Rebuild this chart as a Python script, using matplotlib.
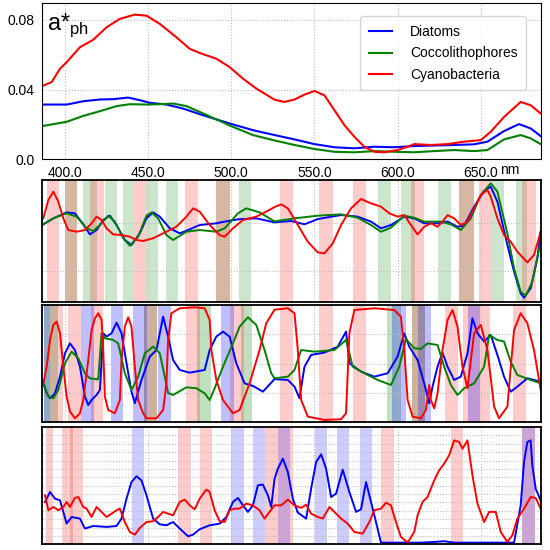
import numpy as np
import matplotlib.pyplot as plt

plt.rcParams['font.family'] = ['Liberation Sans', 'DejaVu Sans']

# -------------------------
# DATA: absorption spectra (top panel)
# -------------------------
labels = ["Diatoms", "Coccolithophores", "Cyanobacteria"]
colors = ["b", "g", "r"]

wl_dia = [386, 401, 411, 421, 429, 438, 445, 451, 461, 471, 481, 491, 501, 513, 526,
          538, 550, 562, 574, 586, 598, 610, 622, 634, 646, 654, 664, 673, 680, 686]
a_dia = [0.0314, 0.0314, 0.0333, 0.0343, 0.0345, 0.0354, 0.0339, 0.0324, 0.0314, 0.0291,
         0.0259, 0.0229, 0.0200, 0.0167, 0.0139, 0.0114, 0.0087, 0.0069, 0.0063, 0.0072,
         0.0069, 0.0076, 0.0079, 0.0082, 0.0086, 0.0101, 0.0162, 0.0202, 0.0177, 0.0133]

wl_coc = [386, 401, 411, 421, 431, 439, 449, 457, 465, 473, 481, 491, 501, 513, 526,
          538, 550, 562, 574, 586, 598, 610, 622, 634, 646, 654, 664, 674, 680, 686]
a_coc = [0.0190, 0.0215, 0.0249, 0.0276, 0.0305, 0.0316, 0.0314, 0.0316, 0.0320, 0.0305,
         0.0272, 0.0229, 0.0186, 0.0139, 0.0108, 0.0082, 0.0059, 0.0043, 0.0040, 0.0047,
         0.0043, 0.0040, 0.0047, 0.0053, 0.0047, 0.0053, 0.0114, 0.0139, 0.0120, 0.0087]

wl_cya = [386, 392, 397, 401, 409, 417, 425, 433, 442, 449, 457, 467, 475, 481, 491, 499,
          507, 515, 526, 532, 538, 544, 550, 556, 562, 568, 574, 580, 586, 592, 600, 606,
          610, 620, 630, 640, 650, 656, 664, 674, 680, 686]
a_cya = [0.0419, 0.0443, 0.0520, 0.0557, 0.0643, 0.0686, 0.0757, 0.0806, 0.0830, 0.0824,
         0.0777, 0.0700, 0.0634, 0.0610, 0.0577, 0.0529, 0.0463, 0.0406, 0.0342, 0.0329,
         0.0343, 0.0371, 0.0392, 0.0367, 0.0282, 0.0196, 0.0129, 0.0072, 0.0043, 0.0040,
         0.0053, 0.0072, 0.0087, 0.0082, 0.0087, 0.0101, 0.0110, 0.0158, 0.0243, 0.0329,
         0.0310, 0.0263]

# -------------------------
# DATA: panel 2 (relative units, 0..1)
# -------------------------
p2_wl_r = [387, 390, 393, 396, 399, 402, 407, 412, 416, 419, 422, 425, 429, 434, 439, 443,
           447, 453, 461, 467, 473, 477, 481, 487, 493, 496, 501, 507, 515, 521, 526, 530,
           534, 540, 546, 552, 556, 561, 566, 572, 578, 584, 590, 595, 600, 604, 608, 612,
           616, 620, 624, 627, 630, 634, 638, 642, 646, 650, 654, 656, 660, 664, 668, 672,
           678, 682, 686]
p2_r = [0.685, 0.836, 0.904, 0.822, 0.685, 0.589, 0.575, 0.589, 0.644, 0.699, 0.671, 0.603,
        0.553, 0.548, 0.534, 0.507, 0.499, 0.521, 0.575, 0.616, 0.699, 0.767, 0.740, 0.630,
        0.548, 0.534, 0.603, 0.671, 0.699, 0.740, 0.778, 0.800, 0.767, 0.630, 0.493, 0.405,
        0.397, 0.479, 0.630, 0.767, 0.844, 0.808, 0.781, 0.726, 0.699, 0.712, 0.630, 0.553,
        0.616, 0.644, 0.616, 0.658, 0.712, 0.685, 0.630, 0.658, 0.767, 0.877, 0.918, 0.863,
        0.685, 0.548, 0.493, 0.411, 0.323, 0.384, 0.575]

p2_wl_b = [387, 393, 401, 406, 411, 415, 419, 423, 427, 431, 436, 440, 445, 449, 453, 457,
           463, 469, 474, 481, 491, 496, 504, 515, 526, 536, 544, 552, 566, 576, 584, 590,
           596, 604, 610, 616, 624, 630, 636, 640, 646, 652, 656, 660, 666, 670, 674, 676,
           680, 684, 686]
p2_b = [0.636, 0.685, 0.734, 0.726, 0.636, 0.553, 0.589, 0.671, 0.707, 0.630, 0.507, 0.466,
        0.562, 0.685, 0.734, 0.699, 0.603, 0.562, 0.589, 0.630, 0.644, 0.658, 0.677, 0.685,
        0.652, 0.663, 0.636, 0.679, 0.712, 0.699, 0.658, 0.603, 0.630, 0.699, 0.685, 0.644,
        0.644, 0.658, 0.616, 0.625, 0.781, 0.910, 0.945, 0.822, 0.466, 0.247, 0.068, 0.033,
        0.110, 0.356, 0.575]

p2_wl_g = [387, 393, 401, 407, 413, 417, 421, 426, 430, 435, 439, 444, 449, 452, 456, 461,
           465, 473, 481, 491, 496, 504, 509, 517, 526, 538, 552, 566, 576, 584, 590, 596,
           604, 610, 616, 626, 632, 638, 644, 650, 656, 660, 666, 670, 674, 677, 681, 686]
p2_g = [0.636, 0.685, 0.726, 0.699, 0.603, 0.581, 0.630, 0.707, 0.658, 0.521, 0.460, 0.534,
        0.707, 0.734, 0.685, 0.548, 0.507, 0.575, 0.589, 0.575, 0.603, 0.726, 0.767, 0.734,
        0.660, 0.685, 0.707, 0.718, 0.690, 0.630, 0.575, 0.608, 0.707, 0.690, 0.658, 0.658,
        0.636, 0.589, 0.685, 0.877, 0.973, 0.904, 0.562, 0.274, 0.082, 0.049, 0.164, 0.493]

p2_red_spans = [(389, 396.6), (400, 407.4), (415, 423.6), (441.5, 449), (472, 480), (491, 499),
                (529, 537), (553, 561), (573, 581), (608, 616), (637, 646), (649, 657),
                (675, 683.5)]
p2_green_spans = [(400, 407.4), (411, 419.4), (424, 431), (434.7, 441.5), (449, 456),
                  (460.5, 468), (491, 499), (504.6, 512), (588, 596), (602, 610.5), (624, 632),
                  (637, 646), (657, 664), (671, 678)]

# -------------------------
# DATA: panel 3 (relative units, 0..1)
# -------------------------
p3_wl_r = [387, 389, 391, 393, 395, 397, 399, 401, 403, 406, 409, 411, 414, 416, 418, 420,
           422, 423, 424, 426, 430, 433, 434, 436, 438, 440, 442, 444, 447, 449, 455, 459,
           461, 462, 464, 469, 478, 484, 487, 488, 491, 495, 501, 505, 511, 517, 521, 526,
           534, 538, 540, 542, 546, 556, 566, 569, 571, 574, 586, 598, 602, 604, 606, 609,
           614, 617, 619, 620, 622, 624, 627, 630, 633, 636, 639, 642, 646, 650, 654, 658,
           661, 666, 670, 674, 678, 682, 686]
p3_r = [0.332, 0.474, 0.702, 0.830, 0.858, 0.759, 0.474, 0.219, 0.091, 0.034, 0.077, 0.190,
        0.531, 0.787, 0.886, 0.929, 0.872, 0.616, 0.219, 0.105, 0.077, 0.190, 0.531, 0.815,
        0.895, 0.815, 0.474, 0.190, 0.077, 0.034, 0.034, 0.105, 0.332, 0.702, 0.929, 0.972,
        0.980, 0.972, 0.872, 0.616, 0.361, 0.190, 0.077, 0.105, 0.332, 0.616, 0.844, 0.960,
        0.972, 0.929, 0.616, 0.190, 0.048, 0.020, 0.026, 0.077, 0.759, 0.957, 0.972, 0.957,
        0.900, 0.616, 0.190, 0.048, 0.034, 0.105, 0.318, 0.190, 0.119, 0.247, 0.616, 0.872,
        0.957, 0.815, 0.474, 0.290, 0.759, 0.830, 0.616, 0.134, 0.034, 0.134, 0.787, 0.929,
        0.844, 0.616, 0.280]

p3_wl_b = [387, 389, 391, 394, 397, 400, 403, 406, 409, 412, 414, 416, 419, 421, 423, 425,
           428, 431, 434, 437, 440, 442, 446, 451, 455, 459, 462, 465, 469, 475, 484, 487,
           491, 495, 499, 503, 508, 513, 519, 526, 534, 538, 541, 544, 548, 556, 564, 569,
           571, 578, 586, 594, 600, 604, 607, 612, 616, 619, 621, 624, 627, 630, 634, 638,
           642, 645, 648, 652, 656, 660, 664, 668, 672, 678, 686]
p3_b = [0.332, 0.247, 0.205, 0.247, 0.389, 0.588, 0.673, 0.616, 0.474, 0.219, 0.148, 0.190,
        0.233, 0.276, 0.759, 0.730, 0.759, 0.849, 0.759, 0.503, 0.261, 0.162, 0.361, 0.560,
        0.616, 0.900, 0.730, 0.531, 0.446, 0.423, 0.446, 0.616, 0.730, 0.773, 0.730, 0.503,
        0.332, 0.310, 0.261, 0.368, 0.361, 0.304, 0.205, 0.474, 0.574, 0.594, 0.645, 0.773,
        0.503, 0.432, 0.389, 0.418, 0.560, 0.759, 0.645, 0.531, 0.332, 0.162, 0.304, 0.474,
        0.594, 0.474, 0.361, 0.389, 0.588, 0.886, 0.759, 0.688, 0.744, 0.574, 0.389, 0.261,
        0.304, 0.375, 0.347]

p3_wl_g = [387, 390, 393, 396, 400, 404, 408, 412, 415, 420, 422, 424, 429, 432, 436, 440,
           444, 448, 453, 457, 460, 462, 465, 473, 479, 484, 487, 490, 495, 501, 505, 510,
           515, 520, 524, 526, 534, 538, 542, 550, 562, 569, 573, 580, 588, 596, 601, 605,
           610, 614, 618, 624, 628, 632, 636, 640, 646, 652, 655, 660, 664, 668, 672, 680,
           686]
p3_g = [0.332, 0.219, 0.205, 0.276, 0.503, 0.602, 0.545, 0.418, 0.375, 0.366, 0.759, 0.716,
        0.702, 0.673, 0.418, 0.276, 0.389, 0.588, 0.645, 0.588, 0.389, 0.250, 0.233, 0.298,
        0.290, 0.247, 0.190, 0.290, 0.474, 0.673, 0.815, 0.895, 0.830, 0.616, 0.418, 0.375,
        0.389, 0.446, 0.616, 0.602, 0.616, 0.702, 0.474, 0.418, 0.361, 0.318, 0.474, 0.710,
        0.631, 0.625, 0.673, 0.659, 0.474, 0.318, 0.233, 0.290, 0.332, 0.474, 0.744, 0.702,
        0.688, 0.517, 0.403, 0.361, 0.332]

p3_red_spans = [(391, 399), (402, 409.6), (415.6, 423), (447.5, 455.5), (472.7, 481),
                (499.3, 507.7), (529, 537), (553, 561), (573, 581), (608.7, 616.3),
                (628.3, 636.3), (639.3, 655.4), (669.5, 677)]
p3_green_spans = [(387.6, 396), (447.5, 455.5), (479.5, 487.5), (505.7, 512.7),
                  (593.7, 602.3), (608.7, 616.3)]
p3_blue_spans = [(387.6, 391), (409.6, 417.6), (427.6, 435), (441, 449.5), (456, 463.5),
                 (494, 501.5), (596.7, 605.3), (612, 620), (642.3, 649.3)]

# -------------------------
# DATA: panel 4 (relative units, 0..1)
# -------------------------
p4_wl_b = [388, 391, 394, 397, 399, 401, 404, 409, 412, 417, 425, 431, 434, 437, 440, 443,
           446, 449, 453, 457, 461, 465, 469, 474, 477, 481, 487, 493, 497, 501, 504, 507,
           510, 513, 516, 519, 522, 524, 526, 528, 531, 534, 537, 540, 545, 548, 551, 554,
           557, 560, 563, 567, 571, 575, 578, 581, 584, 587, 590, 606, 614, 622, 628, 634,
           646, 670, 674, 676, 678, 680, 681, 683, 686]
p4_b = [0.361, 0.446, 0.389, 0.375, 0.276, 0.176, 0.233, 0.219, 0.134, 0.156, 0.148, 0.156,
        0.219, 0.389, 0.531, 0.580, 0.545, 0.418, 0.219, 0.170, 0.162, 0.190, 0.134, 0.068,
        0.082, 0.128, 0.162, 0.176, 0.233, 0.361, 0.395, 0.332, 0.276, 0.332, 0.503, 0.509,
        0.418, 0.318, 0.557, 0.645, 0.730, 0.616, 0.389, 0.270, 0.219, 0.474, 0.702, 0.767,
        0.645, 0.403, 0.432, 0.636, 0.446, 0.276, 0.298, 0.531, 0.361, 0.190, 0.014, 0.014,
        0.014, 0.020, 0.026, 0.014, 0.014, 0.014, 0.332, 0.702, 0.872, 0.886, 0.673, 0.474,
        0.375]

p4_wl_r = [388, 390, 393, 396, 399, 401, 403, 406, 408, 411, 413, 416, 419, 422, 425, 428,
           431, 433, 436, 439, 442, 445, 449, 453, 456, 459, 462, 465, 469, 472, 475, 478,
           481, 485, 487, 490, 493, 496, 499, 502, 505, 509, 513, 517, 520, 523, 526, 530,
           534, 538, 542, 545, 548, 552, 555, 559, 562, 566, 570, 574, 579, 583, 586, 590,
           593, 596, 599, 602, 606, 610, 612, 615, 618, 622, 625, 628, 631, 634, 637, 639,
           642, 645, 648, 652, 655, 659, 662, 666, 669, 672, 676, 680, 683, 686]
p4_r = [0.418, 0.290, 0.318, 0.290, 0.318, 0.361, 0.318, 0.395, 0.403, 0.318, 0.304, 0.233,
        0.318, 0.276, 0.233, 0.261, 0.290, 0.304, 0.190, 0.105, 0.082, 0.139, 0.190, 0.196,
        0.233, 0.276, 0.261, 0.247, 0.361, 0.381, 0.332, 0.298, 0.389, 0.466, 0.446, 0.290,
        0.196, 0.190, 0.290, 0.304, 0.304, 0.347, 0.332, 0.290, 0.219, 0.276, 0.332, 0.332,
        0.381, 0.332, 0.310, 0.338, 0.261, 0.233, 0.219, 0.318, 0.276, 0.219, 0.176, 0.105,
        0.091, 0.190, 0.290, 0.304, 0.355, 0.332, 0.190, 0.063, 0.014, 0.105, 0.247, 0.361,
        0.403, 0.545, 0.631, 0.688, 0.759, 0.886, 0.872, 0.815, 0.886, 0.588, 0.347, 0.190,
        0.276, 0.276, 0.105, 0.020, 0.077, 0.219, 0.304, 0.403, 0.395, 0.304]

p4_red_spans = [(388.4, 392.6), (398, 405), (403, 410.6), (467.7, 475.7), (481, 488.5),
                (520.2, 537.2), (589.9, 598), (632, 639.4), (675, 682.5)]
p4_blue_spans = [(440.5, 447.7), (499.8, 507.8), (513, 520), (528, 535), (550.6, 557.8),
                 (563.3, 570.9), (577.3, 584.3), (675, 682.5)]

# -------------------------
# LAYOUT
# -------------------------
XLIM = (386, 686)
XTICKS = [400, 450, 500, 550, 600, 650]
GRID = dict(color="#bbbbbb", linestyle=":", linewidth=0.8)

fig = plt.figure(figsize=(5.5, 5.5), dpi=100)
ax1 = fig.add_axes([0.0758, 0.7104, 0.9072, 0.2836])
ax2 = fig.add_axes([0.0758, 0.4515, 0.9072, 0.2212])
ax3 = fig.add_axes([0.0758, 0.2322, 0.9072, 0.2133])
ax4 = fig.add_axes([0.0758, 0.0104, 0.9072, 0.2132])

# top panel
ax1.plot(wl_dia, a_dia, color="b", lw=1.5, label=labels[0])
ax1.plot(wl_coc, a_coc, color="g", lw=1.5, label=labels[1])
ax1.plot(wl_cya, a_cya, color="r", lw=1.5, label=labels[2])
ax1.set_xlim(*XLIM)
ax1.set_ylim(0, 0.0895)
ax1.set_xticks(XTICKS)
ax1.set_xticklabels([f"{t:.1f}" for t in XTICKS])
ax1.set_yticks([0, 0.04, 0.08])
ax1.set_yticklabels(["0.0", "0.04", "0.08"])
ax1.tick_params(length=0, labelsize=10, pad=5)
ax1.grid(True, **GRID)
ax1.text(0.938, -0.07, "nm", transform=ax1.transAxes, ha="center", va="center", fontsize=10)
ax1.text(0.01, 0.86, r"a*$_{\mathregular{ph}}$", transform=ax1.transAxes,
         fontsize=17, ha="left", va="center")
ax1.legend(loc="upper right", fontsize=10, handlelength=1.7, handletextpad=1.3,
           borderpad=0.6, labelspacing=0.55, bbox_to_anchor=(0.985, 0.96))


def shade(ax, spans, color, alpha):
    for a, b in spans:
        ax.axvspan(a, b, color=color, alpha=alpha, lw=0)


def style(ax, hgrid):
    ax.set_xlim(*XLIM)
    ax.set_ylim(0, 1)
    ax.set_xticks(XTICKS)
    ax.set_yticks(hgrid)
    ax.set_xticklabels([])
    ax.set_yticklabels([])
    ax.tick_params(length=0)
    ax.grid(True, **GRID)
    for s in ax.spines.values():
        s.set_linewidth(1.3)


# panel 2
shade(ax2, p2_green_spans, "g", 0.2)
shade(ax2, p2_red_spans, "r", 0.2)
ax2.plot(p2_wl_b, p2_b, color="b", lw=1.4)
ax2.plot(p2_wl_g, p2_g, color="g", lw=1.4)
ax2.plot(p2_wl_r, p2_r, color="r", lw=1.4)
style(ax2, [0.25, 0.65])

# panel 3
shade(ax3, p3_green_spans, "g", 0.25)
shade(ax3, p3_red_spans, "r", 0.2)
shade(ax3, p3_blue_spans, "b", 0.25)
ax3.plot(p3_wl_b, p3_b, color="b", lw=1.4)
ax3.plot(p3_wl_g, p3_g, color="g", lw=1.4)
ax3.plot(p3_wl_r, p3_r, color="r", lw=1.4)
style(ax3, [0.25, 0.5, 0.75])

# panel 4
shade(ax4, p4_red_spans, "r", 0.2)
shade(ax4, p4_blue_spans, "b", 0.2)
ax4.plot(p4_wl_b, p4_b, color="b", lw=1.4)
ax4.plot(p4_wl_r, p4_r, color="r", lw=1.4)
style(ax4, np.arange(1, 14) / 14)

fig.savefig("out.png", dpi=100)
